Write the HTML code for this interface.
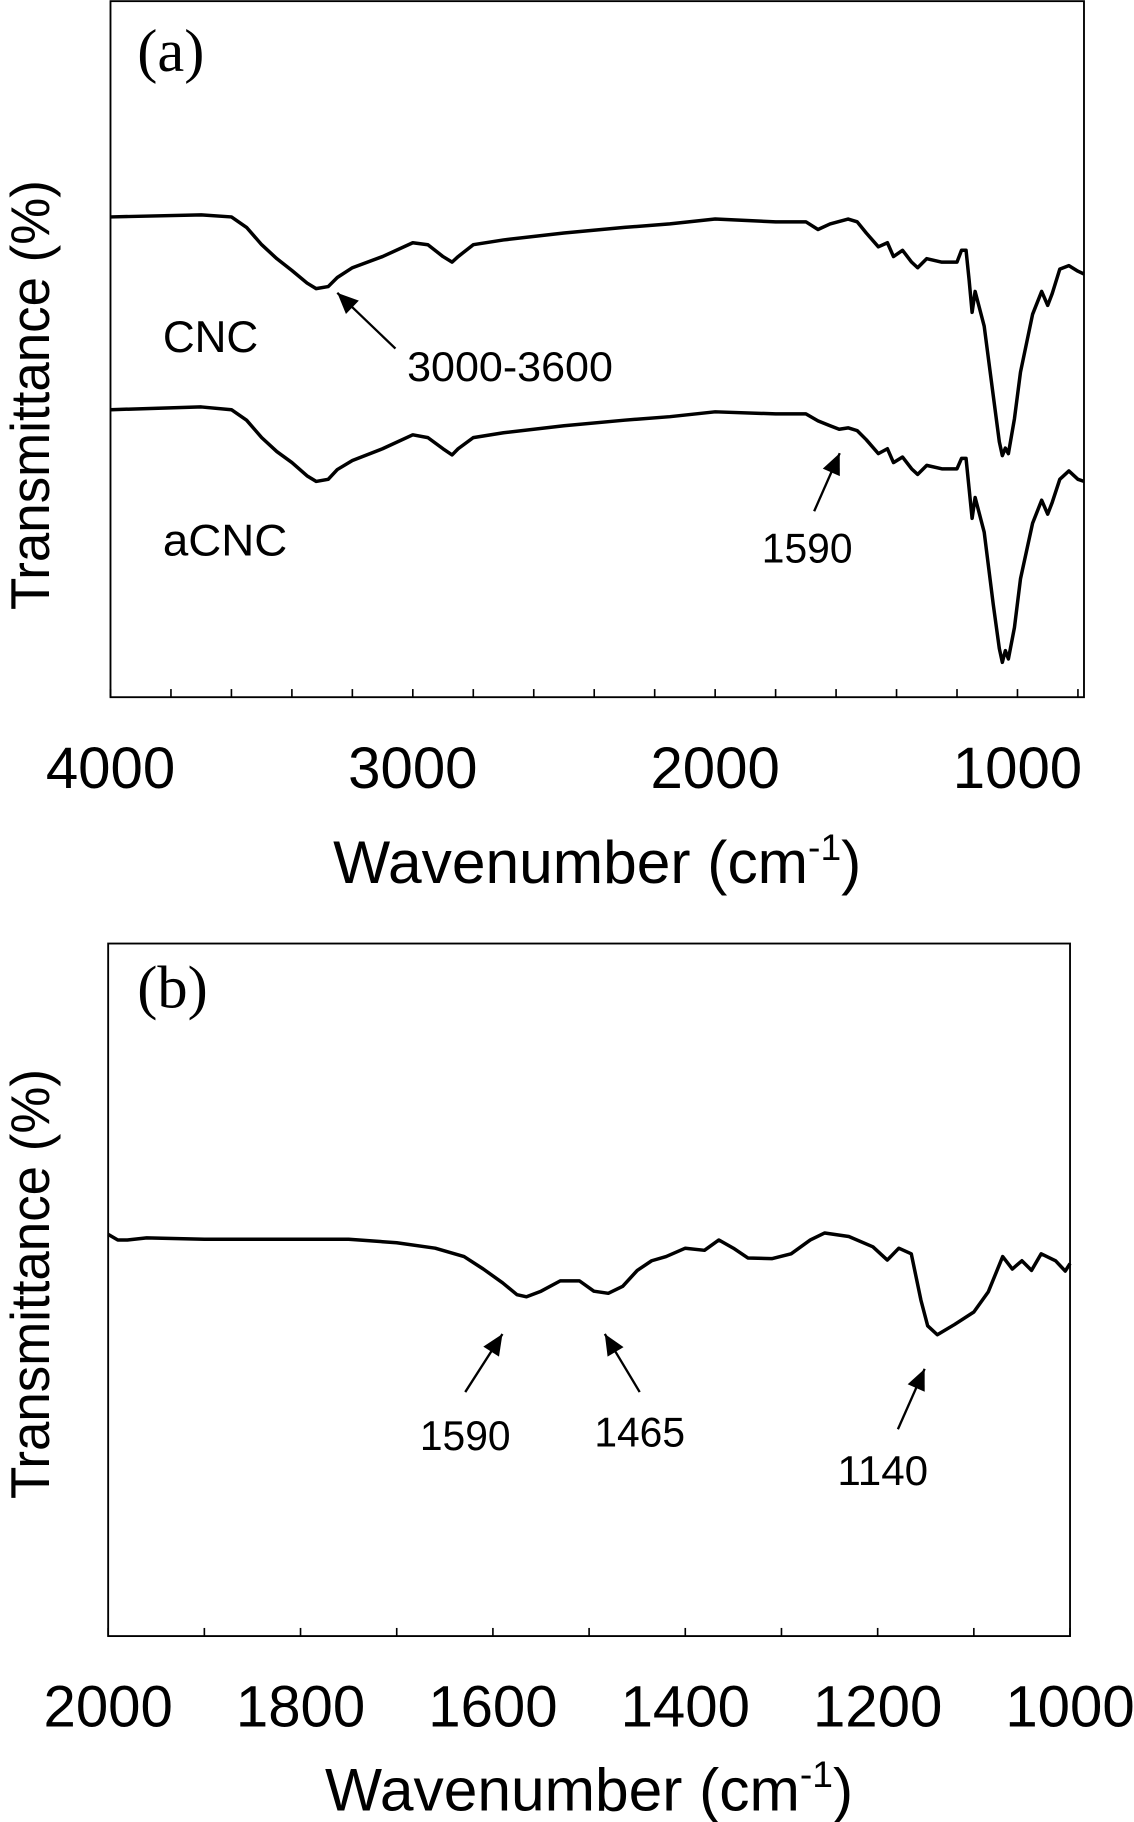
<!DOCTYPE html>
<html><head><meta charset="utf-8"><style>
html,body{margin:0;padding:0;background:#fff}
svg{display:block}
text{font-family:"Liberation Sans",sans-serif;fill:#000}
text.serif{font-family:"Liberation Serif",serif}
</style></head><body>
<svg id="fig" width="1134" height="1822" viewBox="0 0 975 1568" preserveAspectRatio="none" xmlns="http://www.w3.org/2000/svg">
<g id="pa"></g>
<g id="pb"></g>
</svg>
<script>
// Panel (a) data: wavenumber (cm-1) and transmittance (arb., 0-100)
const aWaveCNC = [4000,3700,3600,3550,3500,3450,3400,3350,3320,3280,3250,3200,3100,3000,2950,2900,2870,2850,2800,2700,2500,2300,2150,2000,1800,1700,1660,1620,1560,1530,1500,1460,1430,1410,1380,1350,1330,1300,1250,1200,1185,1170,1160,1150,1140,1110,1080,1060,1050,1040,1030,1010,990,950,920,900,885,860,830,800,780];
const aCNC = [69,69.3,69,67.5,65,63,61.3,59.5,58.7,59,60.3,61.7,63.3,65.3,65,63.3,62.5,63.3,65,65.7,66.7,67.5,68,68.7,68.3,68.3,67.2,68,68.7,68.3,66.7,64.7,65.3,63.3,64.2,62.5,61.7,63,62.5,62.5,64.2,64.2,60,55.3,58.3,53.3,43.3,36.7,34.7,35.8,35,40,46.7,55,58.3,56.3,58,61.5,62,61.2,60.8];
const aWaveACNC = [4000,3700,3600,3550,3500,3450,3400,3350,3320,3280,3250,3200,3100,3000,2950,2900,2870,2850,2800,2700,2500,2300,2150,2000,1800,1700,1660,1620,1590,1560,1530,1500,1460,1430,1410,1380,1350,1330,1300,1250,1200,1185,1170,1160,1150,1140,1110,1080,1060,1050,1040,1030,1010,990,950,920,900,885,860,830,800,780];
const aACNC = [41.3,41.7,41.3,39.8,37.3,35.3,33.7,31.8,31,31.3,32.7,34,35.7,37.7,37.3,35.7,34.8,35.7,37.3,38,39,39.8,40.3,41,40.7,40.7,39.7,39,38.5,38.7,38.3,37,35,35.7,33.7,34.5,32.8,32,33.3,32.8,32.8,34.3,34.3,30,25.7,28.7,23.7,13.3,7,5,6.7,5.5,10,17,25,28.3,26.3,28,31.3,32.5,31.3,31];
const aTicks = [4000,3000,2000,1000];
// Panel (b) data
const bWave = [2000,1990,1980,1960,1900,1800,1750,1700,1660,1630,1610,1590,1575,1565,1550,1530,1510,1495,1480,1465,1450,1435,1420,1400,1380,1365,1350,1335,1310,1290,1270,1255,1230,1205,1190,1178,1165,1155,1148,1138,1120,1100,1085,1070,1060,1050,1040,1030,1015,1005,1000];
const bT = [58,57.2,57.2,57.5,57.3,57.3,57.3,56.8,56,54.8,53,51,49.3,49,49.8,51.3,51.3,49.8,49.5,50.5,52.8,54.2,54.8,56,55.7,57.2,56,54.6,54.5,55.2,57.2,58.2,57.7,56.2,54.3,56,55.2,48.5,44.8,43.5,45,46.8,49.7,54.8,53,54.2,52.8,55.2,54.2,52.7,53.8];
const bTicks = [2000,1800,1600,1400,1200,1000];

const NS='http://www.w3.org/2000/svg';
function el(parent,tag,attrs,txt){const e=document.createElementNS(NS,tag);for(const k in attrs)e.setAttribute(k,attrs[k]);if(txt!==undefined)e.textContent=txt;parent.appendChild(e);return e;}

function drawPanel(g,cfg){
  const {left,right,top,bottom,xmin,xmax,minorStep}=cfg;
  const xs=w=>left+(xmin-w)/(xmin-xmax)*(right-left);
  const ys=v=>bottom-v/100*(bottom-top);
  const frame=el(g,'rect',{x:left,y:top,width:right-left,height:bottom-top,fill:'none',stroke:'#000','stroke-width':1.6});
  
  
  for(let w=xmin;w>=xmax;w-=minorStep){
    const t=el(g,'line',{x1:xs(w),x2:xs(w),y1:bottom,y2:bottom-7,stroke:'#000','stroke-width':1.4});
    
    
  }
  cfg.ticks.forEach(w=>{
    const t=el(g,'text',{x:xs(w),y:bottom+78,'font-size':50,'text-anchor':'middle'},String(w));
    
    
  });
  cfg.series.forEach(s=>{
    const d=s.w.map((w,i)=>(i?'L':'M')+xs(w).toFixed(1)+' '+ys(s.v[i]).toFixed(1)).join(' ');
    const p=el(g,'path',{d:d,fill:'none',stroke:'#000','stroke-width':3,'stroke-linejoin':'round'});
    
    
  });
  const xt=el(g,'text',{x:(left+right)/2,y:bottom+cfg.titleDy,'font-size':52,'text-anchor':'middle'});
  
  
  xt.innerHTML='Wavenumber (cm<tspan dy="-20" font-size="32">-1</tspan><tspan dy="20">)</tspan>';
  const yt=el(g,'text',{x:0,y:0,'font-size':47,'text-anchor':'middle',transform:`translate(42,${cfg.ytitleY}) rotate(-90)`,textLength:370,lengthAdjust:'spacingAndGlyphs'},'Transmittance (%)');
  
  
  const pl=el(g,'text',{x:118,y:top+cfg.labelDy,'font-size':52,'class':'serif'},cfg.label);
  
  
}

function arrow(g,x1,y1,x2,y2){
  const a=el(g,'line',{x1:x1,y1:y1,x2:x2,y2:y2,stroke:'#000','stroke-width':2});
  
  
  const ang=Math.atan2(y2-y1,x2-x1),L=18,W=8;
  const bx=x2-L*Math.cos(ang),by=y2-L*Math.sin(ang);
  const pts=`${x2},${y2} ${bx+W*Math.sin(ang)},${by-W*Math.cos(ang)} ${bx-W*Math.sin(ang)},${by+W*Math.cos(ang)}`;
  const h=el(g,'polygon',{points:pts,fill:'#000'});
  
  
}
function label(g,x,y,txt,size,len,name){
  const t=el(g,'text',{x:x,y:y,'font-size':size,textLength:len,lengthAdjust:'spacingAndGlyphs'},txt);
  
  
}

const pa=document.getElementById('pa');
drawPanel(pa,{left:95,right:932,top:1,bottom:600,xmin:4000,xmax:780,minorStep:200,ticks:aTicks,label:'(a)',labelDy:60,ytitleY:340,titleDy:160,
  series:[{w:aWaveCNC,v:aCNC,name:'cnc-spectrum'},{w:aWaveACNC,v:aACNC,name:'acnc-spectrum'}]});
label(pa,140,303,'CNC',38,82,'cnc-label');
label(pa,140,478,'aCNC',38,107,'acnc-label');
label(pa,350,328,'3000-3600',36,177,'annotation-3000-3600');
arrow(pa,340,300,290,252);
label(pa,655,484,'1590',36,78,'annotation-1590-a');
arrow(pa,700,440,722,390);

const pb=document.getElementById('pb');
drawPanel(pb,{left:93,right:920,top:812,bottom:1408,xmin:2000,xmax:1000,minorStep:100,ticks:bTicks,label:'(b)',labelDy:55,ytitleY:1105,titleDy:150,
  series:[{w:bWave,v:bT,name:'acnc-difference-spectrum'}]});
label(pb,361,1248,'1590',36,78,'annotation-1590');
arrow(pb,400,1198,432,1148);
label(pb,511,1245,'1465',36,78,'annotation-1465');
arrow(pb,550,1198,520,1148);
label(pb,720,1278,'1140',36,78,'annotation-1140');
arrow(pb,772,1230,795,1178);
</script>
</body></html>
